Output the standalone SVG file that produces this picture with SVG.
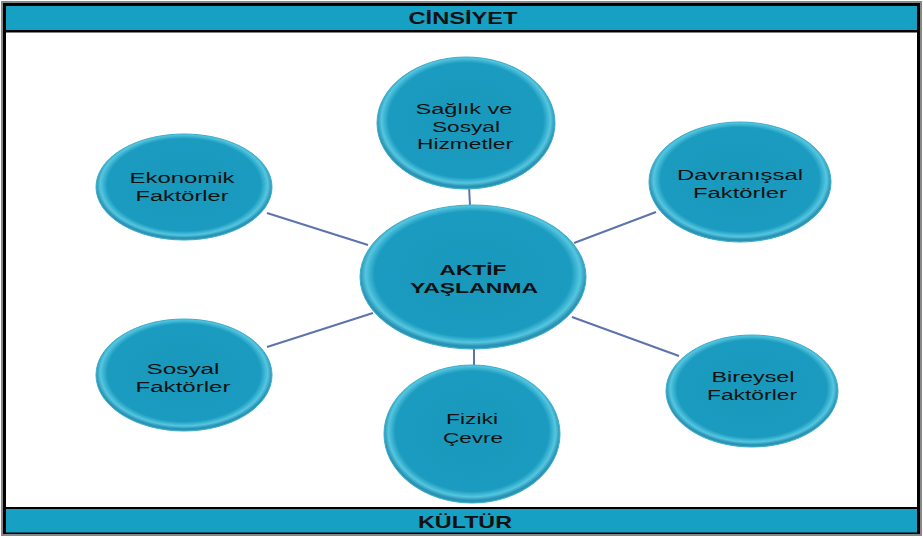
<svg xmlns="http://www.w3.org/2000/svg" width="923" height="538" viewBox="0 0 923 538">
<defs>
<radialGradient id="g" cx="50%" cy="48%" r="50%">
<stop offset="0" stop-color="#1899bc"/>
<stop offset="0.87" stop-color="#1a9bbf"/>
<stop offset="0.95" stop-color="#55c6e0"/>
<stop offset="1" stop-color="#2a93b4"/>
</radialGradient>
<style>
.n ellipse{fill:url(#g);stroke:#3aaecb;stroke-width:1}
.t{font-family:"Liberation Sans",Arial,sans-serif;font-size:15.5px;fill:#111;text-anchor:middle}
.b{font-weight:bold}
.c line{stroke:#5d73ac;stroke-width:2}
.band{fill:#16a0c4}
</style>
</defs>
<rect x="0" y="0" width="923" height="538" fill="#ffffff"/>
<rect x="1" y="1" width="921" height="535" fill="#888"/>
<rect x="3" y="3" width="917" height="531" fill="#000"/>
<rect x="6" y="6" width="911" height="525" fill="#fff"/>
<g id="cinsiyet">
<rect class="band" x="6" y="6" width="911" height="24"/>
<rect x="6" y="30" width="911" height="2.5" fill="#000"/>
<text class="t b" x="463" y="24" textLength="109" lengthAdjust="spacingAndGlyphs" style="font-size:17px">CİNSİYET</text>
</g>
<g id="kultur">
<rect x="6" y="507" width="911" height="2.5" fill="#000"/>
<rect class="band" x="6" y="509.5" width="911" height="23"/>
<text class="t b" x="465" y="528" textLength="94" lengthAdjust="spacingAndGlyphs" style="font-size:17px">KÜLTÜR</text>
</g>
<g id="connectors" class="c">
<line x1="469" y1="186" x2="470" y2="206"/>
<line x1="267" y1="213" x2="368" y2="245"/>
<line x1="656" y1="212" x2="574" y2="243"/>
<line x1="267" y1="347" x2="373" y2="313"/>
<line x1="474" y1="349" x2="474" y2="367"/>
<line x1="572" y1="317" x2="679" y2="356"/>
</g>
<g id="saglik" class="n">
<ellipse cx="466" cy="123" rx="89" ry="66"/>
<text class="t" x="464" y="114" textLength="97" lengthAdjust="spacingAndGlyphs">Sağlık ve</text>
<text class="t" x="466" y="132" textLength="68" lengthAdjust="spacingAndGlyphs">Sosyal</text>
<text class="t" x="465" y="149" textLength="96" lengthAdjust="spacingAndGlyphs">Hizmetler</text>
</g>
<g id="ekonomik" class="n">
<ellipse cx="184" cy="187" rx="88" ry="53"/>
<text class="t" x="182" y="183" textLength="105" lengthAdjust="spacingAndGlyphs">Ekonomik</text>
<text class="t" x="182" y="201" textLength="93" lengthAdjust="spacingAndGlyphs">Faktörler</text>
</g>
<g id="davranissal" class="n">
<ellipse cx="740" cy="182" rx="91" ry="60"/>
<text class="t" x="740" y="180" textLength="126" lengthAdjust="spacingAndGlyphs">Davranışsal</text>
<text class="t" x="740" y="198" textLength="94" lengthAdjust="spacingAndGlyphs">Faktörler</text>
</g>
<g id="aktif" class="n">
<ellipse cx="473" cy="277" rx="113" ry="72"/>
<text class="t b" x="473" y="275" textLength="67" lengthAdjust="spacingAndGlyphs">AKTİF</text>
<text class="t b" x="474" y="293" textLength="128" lengthAdjust="spacingAndGlyphs">YAŞLANMA</text>
</g>
<g id="sosyal" class="n">
<ellipse cx="184" cy="375" rx="88" ry="56"/>
<text class="t" x="183" y="374" textLength="73" lengthAdjust="spacingAndGlyphs">Sosyal</text>
<text class="t" x="183" y="392" textLength="95" lengthAdjust="spacingAndGlyphs">Faktörler</text>
</g>
<g id="fiziki" class="n">
<ellipse cx="472" cy="434" rx="88" ry="69"/>
<text class="t" x="472" y="424" textLength="52" lengthAdjust="spacingAndGlyphs">Fiziki</text>
<text class="t" x="473" y="443" textLength="60" lengthAdjust="spacingAndGlyphs">Çevre</text>
</g>
<g id="bireysel" class="n">
<ellipse cx="752" cy="391" rx="86" ry="56"/>
<text class="t" x="753" y="382" textLength="83" lengthAdjust="spacingAndGlyphs">Bireysel</text>
<text class="t" x="752" y="400" textLength="90" lengthAdjust="spacingAndGlyphs">Faktörler</text>
</g>
</svg>
